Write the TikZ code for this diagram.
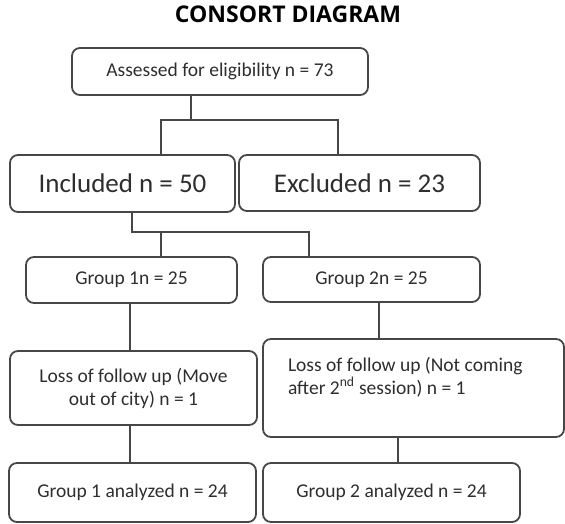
\documentclass[tikz,border=0pt]{standalone}
\usepackage{fontspec}
\setmainfont{Carlito}
\newfontfamily\titlefont{Open Sans}

\begin{document}
\begin{tikzpicture}[x=1pt,y=-1pt]

\tikzstyle{box}=[rectangle,draw=black!72,line width={1.8pt},rounded corners={8pt},inner sep={0pt},align={center},text=black!82,font={\fontsize{19.5}{23}\selectfont}]
\tikzstyle{link}=[draw=black!72,line width={1.8pt}]

\useasboundingbox (0,0) rectangle (565,524);

% title

\node at (288,14.5) [font={\titlefont\bfseries\fontsize{23}{26}\selectfont}] (T) {CONSORT DIAGRAM} ;

% boxes: enrolment

\node at (220,71.5) [box,minimum width={296pt},minimum height={47pt}] (A) {Assessed for eligibility n = 73} ;
\node at (122.5,183.5) [box,minimum width={225pt},minimum height={57pt},font={\fontsize{27}{30}\selectfont}] (I) {Included n = 50} ;
\node at (359.5,183) [box,minimum width={241pt},minimum height={56pt},font={\fontsize{27}{30}\selectfont}] (E) {Excluded n = 23} ;

% boxes: groups

\node at (131.5,280) [box,minimum width={211pt},minimum height={46pt}] (G1) {Group 1n = 25} ;
\node at (371.5,279.5) [box,minimum width={217pt},minimum height={45pt}] (G2) {Group 2n = 25} ;

\node at (133.5,388) [box,minimum width={247pt},minimum height={74pt}] (L1) {Loss of follow up (Move\\out of city) n = 1} ;
\node at (413.5,388) [box,minimum width={301pt},minimum height={98pt}] (L2) {\parbox[c][62pt][t]{251pt}{\raggedright Loss of follow up (Not coming\\after 2\textsuperscript{nd} session) n = 1}} ;

\node at (132.5,492.5) [box,minimum width={247pt},minimum height={59pt}] (R1) {Group 1 analyzed n = 24} ;
\node at (391.5,492.5) [box,minimum width={257pt},minimum height={59pt}] (R2) {Group 2 analyzed n = 24} ;

% connections: split after assessment

\coordinate (J0) at (191,120) ;
\coordinate (J1) at (161,120) ;
\coordinate (J2) at (338,120) ;

\draw [link] (A.south -| J0) -- (J0) ;
\draw [link] (J1 |- I.north) -- (J1) -- (J2) -- (J2 |- E.north) ;

% connections: split into groups

\coordinate (K0) at (132,232) ;
\coordinate (K1) at (161,232) ;
\coordinate (K2) at (309,232) ;

\draw [link] (I.south -| K0) -- (K0) -- (K2) -- (K2 |- G2.north) ;
\draw [link] (K1) -- (K1 |- G1.north) ;

% connections: follow up

\coordinate (M1) at (130,0) ;
\coordinate (M2) at (379,0) ;
\coordinate (M3) at (398,0) ;

\draw [link] (G1.south -| M1) -- (L1.north -| M1) ;
\draw [link] (L1.south -| M1) -- (R1.north -| M1) ;
\draw [link] (G2.south -| M2) -- (L2.north -| M2) ;
\draw [link] (L2.south -| M3) -- (R2.north -| M3) ;

\end{tikzpicture}
\end{document}
